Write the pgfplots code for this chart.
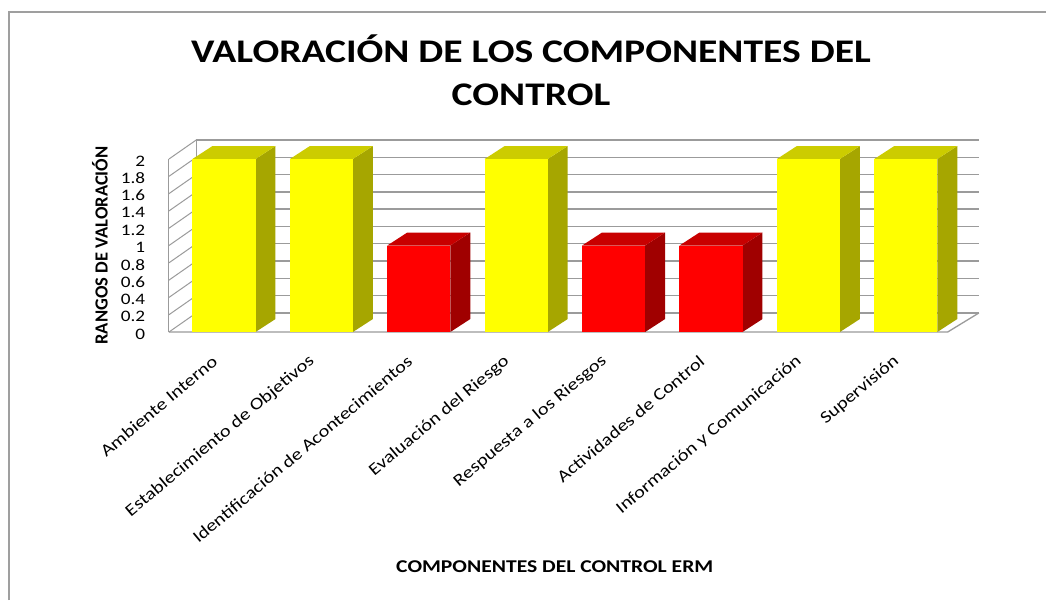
\documentclass[border=0pt]{standalone}
\usepackage{pgfplots}
\pgfplotsset{compat=1.18}
\usepackage{pgfplotstable}
\usepackage{fontspec}
\setmainfont{Carlito}
\newfontfamily\wide[FakeStretch=1.2]{Carlito}
\definecolor{Yfront}{RGB}{255,255,0}
\definecolor{Yside}{RGB}{166,166,0}
\definecolor{Ytop}{RGB}{204,204,0}
\definecolor{Rfront}{RGB}{255,0,0}
\definecolor{Rside}{RGB}{160,0,0}
\definecolor{Rtop}{RGB}{200,0,0}
\definecolor{gridc}{RGB}{155,155,155}

\pgfplotstableread{
idx val col
0 2 Y
1 2 Y
2 1 R
3 2 Y
4 1 R
5 1 R
6 2 Y
7 2 Y
}\datatable

\newcommand\drawbar[1]{%
  \pgfplotstablegetelem{#1}{val}\of\datatable\let\barval\pgfplotsretval
  \pgfplotstablegetelem{#1}{col}\of\datatable\let\barcol\pgfplotsretval
  \pgfmathsetmacro\xl{#1-0.3235}%
  \pgfmathsetmacro\xr{#1+0.3235}%
  \pgfmathsetmacro\xlb{#1-0.3235+0.205}%
  \pgfmathsetmacro\xrb{#1+0.3235+0.205}%
  \pgfmathsetmacro\ytb{\barval+0.15}%
  \edef\tmp{%
    \noexpand\addplot[draw=none, fill=\barcol side] coordinates {(\xr,0) (\xrb,0.15) (\xrb,\ytb) (\xr,\barval)} -- cycle;
    \noexpand\addplot[draw=none, fill=\barcol top] coordinates {(\xl,\barval) (\xr,\barval) (\xrb,\ytb) (\xlb,\ytb)} -- cycle;
    \noexpand\addplot[draw=none, fill=\barcol front] coordinates {(\xl,0) (\xr,0) (\xr,\barval) (\xl,\barval)} -- cycle;
  }\tmp
}

\begin{document}
\begin{tikzpicture}
\useasboundingbox (0pt,0pt) rectangle (1046pt,-600pt);
\fill[white] (0pt,0pt) rectangle (1046pt,-600pt);
\draw[gray!75, line width=1.3pt] (9pt,-600pt) -- (9pt,-12pt) -- (1046pt,-12pt);
\begin{axis}[
  scale only axis,
  width=779.2pt, height=173pt,
  at={(175.3pt,-332pt)}, anchor=south west,
  xmin=-0.5, xmax=7.5, ymin=0, ymax=2,
  clip=false,
  axis line style={draw=none},
  tick style={draw=none},
  xtick={0,1,2,3,4,5,6,7},
  xticklabels={Ambiente Interno, Establecimiento de Objetivos, Identificación de Acontecimientos, Evaluación del Riesgo, Respuesta a los Riesgos, Actividades de Control, Información y Comunicación, Supervisión},
  xticklabel style={font=\wide\fontsize{17}{20}\selectfont, xshift=-9pt, yshift=-27pt, rotate=40, anchor=east, inner sep=0pt},
  ytick={0,0.2,0.4,0.6,0.8,1,1.2,1.4,1.6,1.8,2},
  yticklabels={0,0.2,0.4,0.6,0.8,1,1.2,1.4,1.6,1.8,2},
  yticklabel style={font=\wide\fontsize{16}{19}\selectfont, anchor=east, inner sep=0pt, xshift=-30pt, yshift=-2pt},
  xlabel={COMPONENTES DEL CONTROL ERM},
  xlabel style={font=\wide\bfseries\fontsize{18}{21}\selectfont, at={(rel axis cs:0.487,0)}, anchor=base, yshift=-240pt},
  ylabel={RANGOS DE VALORACIÓN},
  ylabel style={font=\bfseries\fontsize{18.5}{21}\selectfont, at={(rel axis cs:-0.0966,0.5)}, rotate=0, anchor=center},
  title={VALORACIÓN DE LOS COMPONENTES DEL\\CONTROL},
  title style={font=\wide\bfseries\fontsize{33}{43}\selectfont, align=center, at={(rel axis cs:0.4565,1)}, anchor=north, yshift=122pt},
]
% back wall gridlines
\pgfplotsinvokeforeach{0,0.2,0.4,0.6,0.8,1,1.2,1.4,1.6,1.8,2}{
  \draw[gridc, line width=1.4pt] (axis cs:-0.285,#1+0.22) -- (axis cs:7.75,#1+0.22);
  \draw[gridc, line width=1pt] (axis cs:-0.565,#1) -- (axis cs:-0.285,#1+0.22);
}
\draw[gridc, line width=1pt] (axis cs:-0.565,0) -- (axis cs:-0.565,2);
\draw[gridc, line width=0.8pt] (axis cs:-0.285,0.22) -- (axis cs:-0.285,2.22);
\draw[gridc, line width=1.3pt] (axis cs:-0.565,0) -- (axis cs:7.43,0) -- (axis cs:7.75,0.22);
\pgfplotsinvokeforeach{0,...,7}{\drawbar{#1}}
\end{axis}
\end{tikzpicture}
\end{document}
